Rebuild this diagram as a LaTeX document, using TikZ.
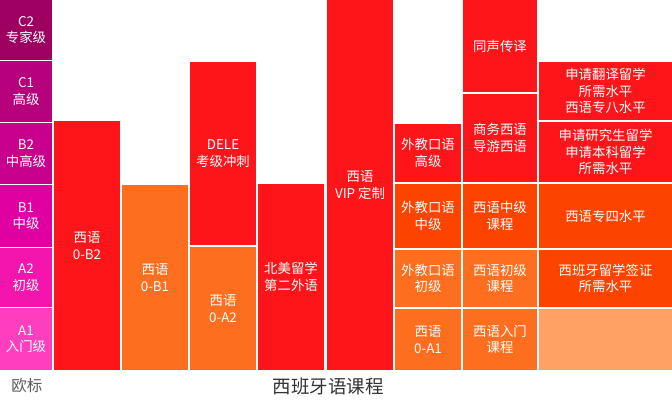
\documentclass[tikz,border=0pt]{standalone}
\usepackage{fontspec}
\setmainfont{Noto Sans CJK SC}
\usetikzlibrary{fit}
\definecolor{cred}{HTML}{FD1519}
\definecolor{corange}{HTML}{FD6E1E}
\definecolor{cdeep}{HTML}{FC4300}
\definecolor{clight}{HTML}{FFA064}
\definecolor{lvA}{HTML}{9E0062}
\definecolor{lvB}{HTML}{B6007C}
\definecolor{lvC}{HTML}{C9008E}
\definecolor{lvD}{HTML}{E000A2}
\definecolor{lvE}{HTML}{F414AE}
\definecolor{lvF}{HTML}{FC3EBF}
\definecolor{labgray}{HTML}{5A5A5A}
\definecolor{titlegray}{HTML}{333333}
\tikzset{
  cell/.style={inner sep=0pt, outer sep=0pt, draw=none},
  celltext/.style={inner sep=0pt, outer sep=0pt, text=white, align=center,
    font=\fontsize{13.4}{16.6}\selectfont},
  caption/.style={inner sep=0pt, text=labgray}
}
\newcommand{\cellbox}[7]{%
  \node[cell, fill=#6, fit={(#2,#3) (#4,#5)}] (#1) {};
  \node[celltext] (#1-t) at (#1.center) {#7};}
\begin{document}
\begin{tikzpicture}[x=1pt,y=-1pt]
\useasboundingbox (0,0) rectangle (672,399);
% level column
\cellbox{c2}{0}{0}{52}{60}{lvA}{C2\\专家级}
\cellbox{c1}{0}{61}{52}{122}{lvB}{C1\\高级}
\cellbox{b2}{0}{123}{52}{184}{lvC}{B2\\中高级}
\cellbox{b1}{0}{185}{52}{247}{lvD}{B1\\中级}
\cellbox{a2}{0}{248}{52}{307}{lvE}{A2\\初级}
\cellbox{a1}{0}{308}{52}{370}{lvF}{A1\\入门级}
% course columns
\cellbox{b2c}{54}{121}{120}{370}{cred}{西语\\0-B2}
\cellbox{b1c}{122}{185}{188}{370}{corange}{西语\\0-B1}
\cellbox{dele}{190}{62}{256}{245}{cred}{DELE\\考级冲刺}
\cellbox{a2c}{190}{247}{256}{370}{corange}{西语\\0-A2}
\cellbox{bm}{258}{184}{324}{370}{cred}{北美留学\\第二外语}
\cellbox{vip}{327}{0}{393}{370}{cred}{西语\\VIP 定制}
\cellbox{wjg}{395}{124}{461}{182}{cred}{外教口语\\高级}
\cellbox{wjz}{395}{184}{461}{248}{cdeep}{外教口语\\中级}
\cellbox{wjc}{395}{250}{461}{307}{corange}{外教口语\\初级}
\cellbox{a1c}{395}{309}{461}{370}{corange}{西语\\0-A1}
\cellbox{tscy}{463}{0}{537}{92}{cred}{同声传译}
\cellbox{swxy}{463}{94}{537}{182}{cred}{商务西语\\导游西语}
\cellbox{zjkc}{463}{184}{537}{248}{cdeep}{西语中级\\课程}
\cellbox{cjkc}{463}{250}{537}{307}{corange}{西语初级\\课程}
\cellbox{rmkc}{463}{309}{537}{370}{corange}{西语入门\\课程}
\cellbox{fy}{539}{62}{672}{120}{cred}{申请翻译留学\\所需水平\\西语专八水平}
\cellbox{yjs}{539}{122}{672}{182}{cred}{申请研究生留学\\申请本科留学\\所需水平}
\cellbox{zs}{539}{184}{672}{248}{cdeep}{西语专四水平}
\cellbox{qz}{539}{250}{672}{307}{cdeep}{西班牙留学签证\\所需水平}
\cellbox{empty}{539}{309}{672}{370}{clight}{}
% captions
\node[caption, font=\fontsize{15.5}{18}\selectfont] (ob) at (27,386) {欧标};
\node[caption, font=\fontsize{18.5}{21}\selectfont, text=titlegray] (title) at (328,386) {西班牙语课程};
\end{tikzpicture}
\end{document}
